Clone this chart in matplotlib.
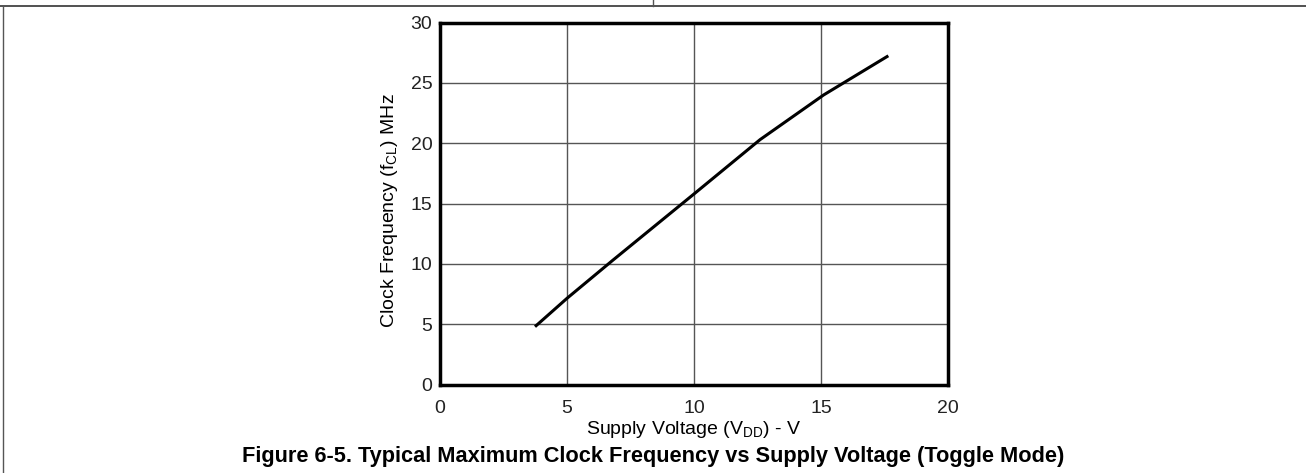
import matplotlib
matplotlib.use("Agg")
import matplotlib.pyplot as plt
from matplotlib.lines import Line2D

plt.rcParams['font.family'] = ['Liberation Sans', 'DejaVu Sans']

# data
supply_v = [3.74, 5.0, 6.8, 10.0, 12.6, 15.1, 17.65]
clock_mhz = [4.8, 7.15, 10.3, 15.8, 20.3, 24.0, 27.25]

x_ticks = [0, 5, 10, 15, 20]
y_ticks = [0, 5, 10, 15, 20, 25, 30]

fig = plt.figure(figsize=(13.06, 4.73), dpi=100)
ax = fig.add_axes([0.3369, 0.1869, 0.389, 0.7653])

ax.plot(supply_v, clock_mhz, color='black', linewidth=2.2, solid_capstyle='butt')

ax.set_xlim(0, 20)
ax.set_ylim(0, 30)
ax.set_xticks(x_ticks)
ax.set_yticks(y_ticks)
ax.tick_params(length=0, labelsize=14, colors='#222222')
ax.tick_params(axis='x', pad=11)
ax.tick_params(axis='y', pad=5.5)
ax.grid(True, color='#555555', linewidth=1.0)
ax.set_axisbelow(True)
for s in ax.spines.values():
    s.set_linewidth(2.5)
    s.set_color('black')

ax.set_xlabel('Supply Voltage (V$_{\\mathregular{DD}}$) - V', fontsize=14, labelpad=1.5)
ax.set_ylabel('Clock Frequency (f$_{\\mathregular{CL}}$) MHz', fontsize=14)
ax.yaxis.set_label_coords(-0.079, 0.482)

fig.text(0.5, 1 - 456.5 / 473, 'Figure 6-5. Typical Maximum Clock Frequency vs Supply Voltage (Toggle Mode)',
         ha='center', va='center', fontsize=15.7, fontweight='bold')

# page frame lines
fig.add_artist(Line2D([0, 1], [1 - 6 / 473, 1 - 6 / 473], transform=fig.transFigure, color='#333333', linewidth=1.2))
fig.add_artist(Line2D([2.5 / 1306, 2.5 / 1306], [0, 1 - 6 / 473], transform=fig.transFigure, color='#555555', linewidth=1.0))
fig.add_artist(Line2D([653 / 1306, 653 / 1306], [1 - 6 / 473, 1], transform=fig.transFigure, color='#555555', linewidth=1.0))

fig.savefig('out.png', dpi=100)
